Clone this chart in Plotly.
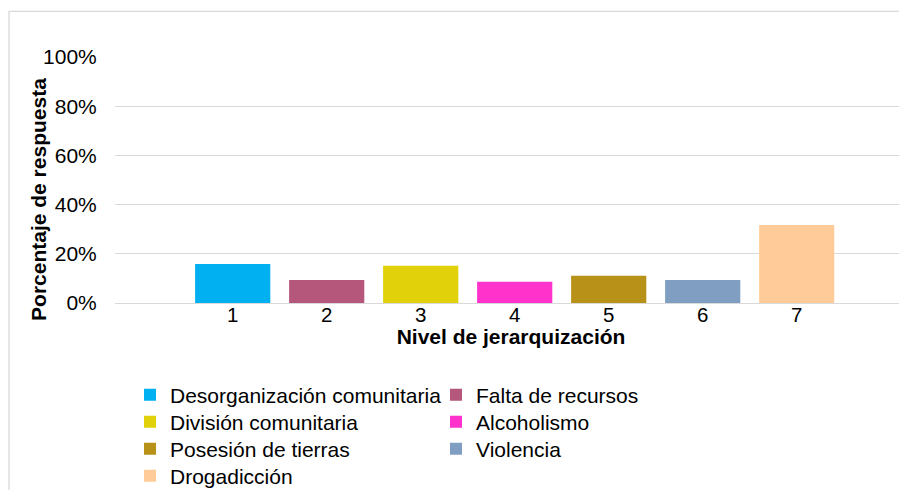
import plotly.graph_objects as go

categories = [1, 2, 3, 4, 5, 6, 7]
series_names = [
    "Desorganización comunitaria",
    "Falta de recursos",
    "División comunitaria",
    "Alcoholismo",
    "Posesión de tierras",
    "Violencia",
    "Drogadicción",
]
values = [0.159, 0.094, 0.151, 0.086, 0.111, 0.094, 0.317]
colors = ["#00B0F0", "#B5577A", "#E0D10A", "#FF33CC", "#B89218", "#809EC2", "#FFCC99"]
legend_ids = ["legend", "legend", "legend2", "legend2", "legend3", "legend3", "legend4"]
x_title = "Nivel de jerarquización"
y_title = "Porcentaje de respuesta"

# the page body has an 8px default margin; work in page pixels and convert
OFF = 8
W, H = 907 - OFF, 490 - OFF
PL, PR = 115 - OFF, 907 - OFF
PT, PB = 56.7 - OFF, 303.3 - OFF
FONT = "Liberation Sans, Arial, sans-serif"

fig = go.Figure()
for name, cat, val, col, lg in zip(series_names, categories, values, colors, legend_ids):
    fig.add_trace(go.Bar(
        x=[cat], y=[val], name=name, marker=dict(color=col, line=dict(width=0)),
        width=0.8, legend=lg, hoverinfo="skip",
    ))

row_centers = [395 - OFF, 422 - OFF, 449 - OFF, 476 - OFF]
leg_common = dict(
    orientation="h", xref="container", yref="container",
    x=(130 - OFF) / W, xanchor="left", yanchor="middle",
    font=dict(family=FONT, size=21, color="#000000"),
    entrywidth=261, entrywidthmode="pixels",
    bgcolor="rgba(0,0,0,0)", borderwidth=0, itemclick=False, itemdoubleclick=False,
)
legends = {}
for i, key in enumerate(["legend", "legend2", "legend3", "legend4"]):
    legends[key] = dict(leg_common, y=1 - row_centers[i] / H)

# x range: unit = 94 px, category 1 centred at page x=232.7 px
unit = 94.0
x0 = 1 - ((232.7 - OFF) - PL) / unit
x1 = x0 + (PR - PL) / unit

fig.update_layout(
    width=W, height=H,
    margin=dict(l=PL, r=W - PR, t=PT, b=H - PB, pad=0),
    paper_bgcolor="white", plot_bgcolor="white",
    barmode="overlay", showlegend=True,
    font=dict(family=FONT, size=21, color="#000000"),
    xaxis=dict(
        range=[x0, x1], tickmode="array", tickvals=categories,
        ticktext=[str(c) for c in categories],
        showgrid=False, zeroline=False, showline=False,
        ticks="", ticklabelstandoff=-3,
        tickfont=dict(family=FONT, size=20.5, color="#000000"),
        title=dict(text=x_title, standoff=2,
                   font=dict(family=FONT, size=21, color="#000000", weight="bold")),
        automargin=False, fixedrange=True,
    ),
    yaxis=dict(
        range=[0, 1], dtick=0.2, tick0=0, tickformat=".0%",
        showgrid=True, gridcolor="#D9D9D9", gridwidth=1.3,
        zeroline=True, zerolinecolor="#D9D9D9", zerolinewidth=1.3,
        showline=False,
        ticks="outside", ticklen=13, tickcolor="rgba(0,0,0,0)",
        tickfont=dict(family=FONT, size=21, color="#000000"),
        automargin=False, fixedrange=True,
    ),
    **legends,
)

# y-axis title placed like the original (left of the tick labels)
fig.add_annotation(
    text=y_title, textangle=-90, showarrow=False,
    xref="paper", yref="paper",
    x=((39 - OFF) - PL) / (PR - PL), xanchor="center",
    y=(PB - (200 - OFF)) / (PB - PT), yanchor="middle",
    font=dict(family=FONT, size=21, color="#000000", weight="bold"),
)

# chart-area border (light grey frame, cropped at right and bottom)
fig.add_shape(
    type="rect", xref="paper", yref="paper",
    x0=((9 - OFF) - PL) / (PR - PL), x1=1.02,
    y0=(PB - 520) / (PB - PT), y1=(PB - (11 - OFF)) / (PB - PT),
    line=dict(color="#D9D9D9", width=1.3), fillcolor="rgba(0,0,0,0)", layer="below",
)

fig.write_html("out.html", config={"displayModeBar": False})
